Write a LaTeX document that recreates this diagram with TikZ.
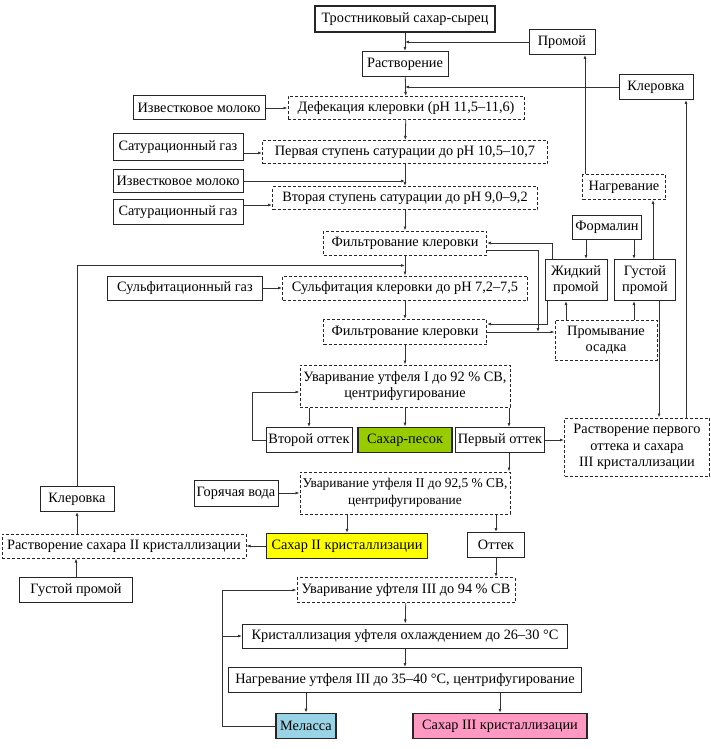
\documentclass[tikz,border=0pt]{standalone}
\usepackage{fontspec}
\setmainfont{Liberation Serif}
\usetikzlibrary{arrows.meta, positioning, calc}

\definecolor{pesokgreen}{HTML}{99CC00}
\definecolor{sahyellow}{HTML}{FFFF00}
\definecolor{melblue}{HTML}{99D3E6}
\definecolor{sahpink}{HTML}{FF99C2}

\tikzset{
  box/.style={draw=black!85, line width=1pt, inner sep=1pt, align=center,
    font=\fontsize{14.3}{16.5}\selectfont},
  dbox/.style={box, dash pattern=on 3pt off 2pt},
  prod/.style={box, line width=1.8pt},
  wh/.style 2 args={minimum width=#1pt, minimum height=#2pt},
  conn/.style={line width=0.8pt, draw=black!80, -{Latex[length=4pt, width=3pt]}},
}

\begin{document}
\begin{tikzpicture}[x=1pt, y=-1pt]
\useasboundingbox (0,0) rectangle (711,749);

% top part
\node[box, line width=2pt, wh={180}{26}] (raw) at (405,19) {Тростниковый сахар-сырец};
\node[box, wh={66}{25}] (promoi) at (562,42) {Промой};
\node[box, wh={86}{25}] (rastv) at (405,64) {Растворение};
\node[box, wh={74}{25}] (klerR) at (656,87) {Клеровка};
\node[box, wh={132}{24}] (izv1) at (199,108) {Известковое молоко};
\node[dbox, wh={236}{23}] (defek) at (406,108) {Дефекация клеровки (pH 11,5–11,6)};
\node[box, wh={130}{27}] (satg1) at (178,147) {Сатурационный газ};
\node[dbox, wh={285}{23}] (perv) at (405,152) {Первая ступень сатурации до pH 10,5–10,7};
\node[box, wh={130}{23}] (izv2) at (178,181) {Известковое молоко};
\node[dbox, wh={265}{23}] (vtor) at (405,198) {Вторая ступень сатурации до pH 9,0–9,2};
\node[box, wh={130}{25}] (satg2) at (178,212) {Сатурационный газ};
\node[dbox, wh={83}{25}] (nagr) at (624,187) {Нагревание};
\node[box, wh={69}{24}] (form) at (607,227) {Формалин};
\node[dbox, wh={163}{24}] (filt1) at (405,243) {Фильтрование клеровки};
\node[box, wh={62}{41}] (zhid) at (576,280) {Жидкий\\промой};
\node[box, wh={61}{41}] (gust) at (645,280) {Густой\\промой};
\node[box, wh={155}{24}] (sulfg) at (185,288) {Сульфитационный газ};
\node[dbox, wh={245}{24}] (sulf) at (405,288) {Сульфитация клеровки до pH 7,2–7,5};
\node[dbox, wh={163}{25}] (filt2) at (405,332) {Фильтрование клеровки};
\node[dbox, wh={102}{40}] (prom) at (606,340) {Промывание\\осадка};

% crystallisation
\node[dbox, wh={210}{42}] (uvar1) at (405,386) {Уваривание утфеля I до 92 \% СВ,\\центрифугирование};
\node[box, wh={86}{25}] (vtot) at (309,440) {Второй оттек};
\node[prod, fill=pesokgreen, wh={94}{25}] (pesok) at (405,440) {Сахар-песок};
\node[box, wh={89}{25}] (pervot) at (500,440) {Первый оттек};
\node[dbox, wh={145}{58}] (rastv1) at (637,447) {Растворение первого\\оттека и сахара\\III кристаллизации};
\node[box, wh={74}{25}] (klerL) at (77,499) {Клеровка};
\node[box, wh={84}{26}] (gorv) at (236,493) {Горячая вода};
\node[dbox, wh={210}{42}, font=\fontsize{13.4}{16.5}\selectfont] (uvar2) at (405,493) {Уваривание утфеля II до 92,5 \% СВ,\\центрифугирование};
\node[dbox, wh={244}{24}] (rastv2) at (124,546) {Растворение сахара II кристаллизации};
\node[prod, line width=1.2pt, fill=sahyellow, wh={161}{25}] (sahar2) at (347,546) {Сахар II кристаллизации};
\node[box, wh={57}{25}] (ottek) at (496,545) {Оттек};
\node[box, wh={113}{25}] (gustB) at (76,590) {Густой промой};
\node[dbox, wh={218}{25}] (uvar3) at (406,590) {Уваривание уфтеля III до 94 \% СВ};
\node[box, wh={325}{24}] (krist) at (405,636) {Кристаллизация уфтеля охлаждением до 26–30 °С};
\node[box, wh={353}{25}] (nagr3) at (405,680) {Нагревание утфеля III до 35–40 °С, центрифугирование};
\node[prod, fill=melblue, wh={60}{25}] (melassa) at (306,726) {Меласса};
\node[prod, line width=1.2pt, fill=sahpink, wh={174}{25}] (sahar3) at (500,726) {Сахар III кристаллизации};

% helper points
\coordinate (s1) at ($(satg1.east)+(0,6)$);
\coordinate (s2) at ($(satg2.east)+(0,-7)$);
\coordinate (fz) at ($(zhid.north)+(10,0)$);
\coordinate (fg) at ($(gust.north)+(-11,0)$);
\coordinate (pz) at ($(zhid.south)+(-10,0)$);
\coordinate (pg) at ($(gust.south)+(-11,0)$);
\coordinate (gn) at ($(gust.north)+(8,0)$);
\coordinate (gr) at ($(gust.south)+(14,0)$);
\coordinate (np) at ($(nagr.north west)+(3,0)$);
\coordinate (rk) at ($(klerR.south)+(30,0)$);
\coordinate (jn) at ($(filt2.east)+(51,0)$);
\coordinate (sj) at ($(filt1.south)!0.5!(sulf.north)$);
\coordinate (po) at ($(pervot.north)+(9,0)$);
\coordinate (ml) at ($(melassa.west)+(-53,0)$);

% main line
\draw[conn] (raw) -- (rastv);
\draw[conn] (promoi) -- (promoi -| raw.south);
\draw[conn] (rastv) -- (defek);
\draw[conn] (klerR) -- (klerR -| rastv.south);
\draw[conn] (izv1) -- (defek);
\draw[conn] (defek) -- (perv);
\draw[conn] (s1) -- (s1 -| perv.west);
\draw[conn] (perv) -- (vtor);
\draw[conn] (izv2) -- (izv2 -| perv.south);
\draw[conn] (s2) -- (s2 -| vtor.west);
\draw[conn] (vtor) -- (filt1);
\draw[conn] (filt1) -- (sulf);
\draw[conn] (klerL) |- (sj);
\draw[conn] (sulfg) -- (sulf);
\draw[conn] (sulf) -- (filt2);
\draw[conn] (filt2) -- (uvar1);

% washings
\draw[conn] ([xshift=8pt]zhid.north west) |- (filt1.east);
\draw[conn] ([xshift=3pt]zhid.south west) |- ([yshift=8pt]filt2.east);
\draw[conn] ([yshift=-7pt]filt1.east) -| (jn);
\draw[conn] (filt2.east) -- (filt2.east -| prom.west);
\draw[conn] (fz |- form.south) -- (fz);
\draw[conn] (fg |- form.south) -- (fg);
\draw[conn] (pz |- prom.north) -- (pz);
\draw[conn] (pg |- prom.north) -- (pg);
\draw[conn] (gn) -- (gn |- nagr.south);
\draw[conn] (np) -- (np |- promoi.south);
\draw[conn] (gr) -- (gr |- rastv1.north);
\draw[conn] (rk |- rastv1.north) -- (rk);

% massecuites
\draw[conn] (vtot.north |- uvar1.south) -- (vtot);
\draw[conn] (uvar1) -- (pesok);
\draw[conn] (po |- uvar1.south) -- (po);
\draw[conn] (vtot.west) -- ++(-13,0) |- ([yshift=-6pt]uvar1.west);
\draw[conn] (pervot) -- (pervot -| rastv1.west);
\draw[conn] (po |- pervot.south) -- (po |- uvar2.north);
\draw[conn] (gorv) -- (gorv -| uvar2.west);
\draw[conn] (sahar2.north |- uvar2.south) -- (sahar2);
\draw[conn] (ottek.north |- uvar2.south) -- (ottek);
\draw[conn] (sahar2) -- (rastv2);
\draw[conn] (klerL.south |- rastv2.north) -- (klerL);
\draw[conn] (gustB) -- (gustB |- rastv2.south);
\draw[conn] (ottek) -- (ottek |- uvar3.north);
\draw[conn] (uvar3) -- (krist);
\draw[conn] (krist) -- (nagr3);
\draw[conn] (melassa.north |- nagr3.south) -- (melassa);
\draw[conn] (sahar3.north |- nagr3.south) -- (sahar3);
\draw[conn] (melassa.west) -- (ml) |- (uvar3.west);
\draw[conn] (ml |- krist.west) -- (krist.west);
\end{tikzpicture}
\end{document}
